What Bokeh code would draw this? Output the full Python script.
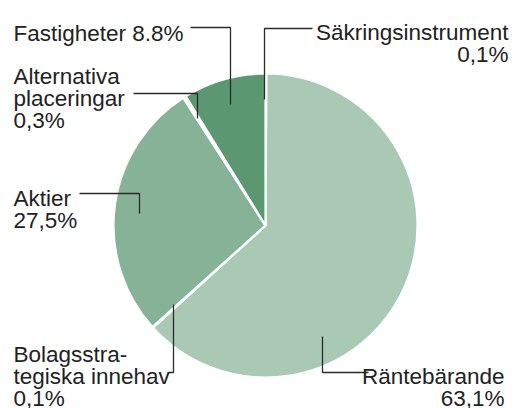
import math
from bokeh.plotting import figure
from bokeh.models import Range1d, ColumnDataSource
from bokeh.core.properties import value
from bokeh.embed import file_html
from bokeh.resources import INLINE

# Data (clockwise from 12 o'clock)
categories = ["Säkringsinstrument", "Räntebärande", "Bolagsstrategiska innehav",
              "Aktier", "Alternativa placeringar", "Fastigheter"]
shares = [0.1, 63.1, 0.1, 27.5, 0.3, 8.8]
colors = ["#ffffff", "#a9c9b4", "#ffffff", "#86b397", "#ffffff", "#5b9871"]

# Label text lines
label_lines = [
    ["Säkringsinstrument", "0,1%"],
    ["Räntebärande", "63,1%"],
    ["Bolagsstra-", "tegiska innehav", "0,1%"],
    ["Aktier", "27,5%"],
    ["Alternativa", "placeringar", "0,3%"],
    ["Fastigheter 8.8%"],
]

W, H = 513, 408
p = figure(width=W, height=H, output_backend="svg", toolbar_location=None,
           x_range=Range1d(0, W), y_range=Range1d(0, H),
           min_border=0)
p.axis.visible = False
p.grid.visible = False
p.outline_line_color = None
p.background_fill_color = None
p.border_fill_color = "white"

def Y(py):
    return 408 - py

cx, cy, r = 265, Y(225), 152
total = sum(shares)
starts, ends = [], []
cum = 0.0
for s in shares:
    a0 = math.pi / 2 - 2 * math.pi * cum / total
    cum += s
    a1 = math.pi / 2 - 2 * math.pi * cum / total
    starts.append(a0)
    ends.append(a1)

src = ColumnDataSource(dict(start=starts, end=ends, color=colors, cat=categories, share=shares))
p.wedge(x=cx, y=cy, radius=r, start_angle="start", end_angle="end", direction="clock",
        fill_color="color", line_color="white", line_width=2.2, source=src)

# leader lines (page pixel coordinates)
leaders = [
    [(312, 28), (264, 28), (264, 99)],           # Säkringsinstrument
    [(368, 372), (322, 372), (322, 336)],        # Räntebärande
    [(168, 372), (173, 372), (173, 304)],        # Bolagsstrategiska
    [(79, 193), (139, 193), (139, 213)],         # Aktier
    [(133, 93), (197, 93), (197, 118)],          # Alternativa
    [(190, 27), (230, 27), (230, 104)],          # Fastigheter
]
for pts in leaders:
    p.line([q[0] for q in pts], [Y(q[1]) for q in pts], line_color="#2a2a2a", line_width=1.3)

# label anchor positions: (x, first baseline y, align)
anchors = [
    (508, 32, "right"),
    (504, 376, "right"),
    (13, 354, "left"),
    (13, 198, "left"),
    (13, 76, "left"),
    (13, 33, "left"),
]
lh = 22
tx, ty, tt, ta = [], [], [], []
for (ax, ay, al), lines in zip(anchors, label_lines):
    for i, ln in enumerate(lines):
        tx.append(ax)
        ty.append(Y(ay + i * lh))
        tt.append(ln)
        ta.append(al)
tsrc = ColumnDataSource(dict(x=tx, y=ty, text=tt, align=ta))
p.text(x="x", y="y", text="text", text_align="align", text_baseline="alphabetic",
       text_font=value("Liberation Sans"), text_font_size="22.5px",
       text_color="#222222", source=tsrc)

open("out.html", "w").write(file_html(p, INLINE))
